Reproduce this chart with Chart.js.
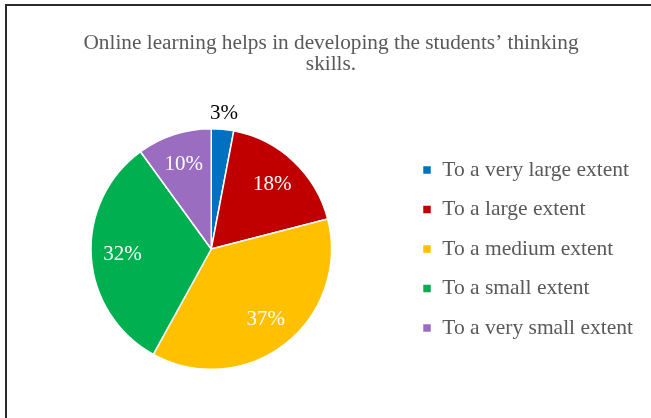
<!DOCTYPE html>
<html>
<head>
<meta charset="utf-8">
<script src="https://cdn.jsdelivr.net/npm/chart.js@4.4.1/dist/chart.umd.min.js"></script>
<style>
  html, body { margin: 0; padding: 0; background: #fff; overflow: hidden; }
  .frame {
    position: absolute; left: 5px; top: 4px; width: 700px; height: 500px;
    border-top: 2px solid #2b2b2b; border-left: 2px solid #2b2b2b;
  }
  #pieChart { position: absolute; left: 0; top: 0; }
</style>
</head>
<body>
<div class="frame"></div>
<canvas id="pieChart" width="651" height="418"></canvas>
<script>
const titleLines = ["Online learning helps in developing the students’ thinking", "skills."];
const categories = [
  "To a very large extent",
  "To a large extent",
  "To a medium extent",
  "To a small extent",
  "To a very small extent",
];
const percents = [3, 18, 37, 32, 10];
const sliceColors = ["#0070C0", "#C00000", "#FFC000", "#00B050", "#9A6DC0"];

const serif = "'Liberation Serif', 'Times New Roman', serif";

// two-line heading centred over the whole figure
const headingPlugin = {
  id: "heading",
  afterDraw(chart) {
    const c = chart.ctx;
    c.save();
    c.fillStyle = "#595959";
    c.font = "21.3px " + serif;
    c.textAlign = "center";
    c.textBaseline = "alphabetic";
    titleLines.forEach((line, i) => c.fillText(line, 331, 49 + i * 20.5));
    c.restore();
  },
};

// percentage labels: inside the slice, small slices go outside
const sliceLabels = {
  id: "sliceLabels",
  afterDatasetsDraw(chart) {
    const c = chart.ctx;
    const meta = chart.getDatasetMeta(0);
    c.save();
    c.font = "21px " + serif;
    c.textAlign = "center";
    c.textBaseline = "middle";
    meta.data.forEach((arc, i) => {
      const p = arc.getProps(["x", "y", "startAngle", "endAngle", "outerRadius"], true);
      const mid = (p.startAngle + p.endAngle) / 2;
      const small = percents[i] < 5;
      const r = small ? p.outerRadius + 16 : p.outerRadius * 0.74;
      c.fillStyle = small ? "#000000" : "#ffffff";
      c.fillText(percents[i] + "%", p.x + Math.cos(mid) * r, p.y + Math.sin(mid) * r);
    });
    c.restore();
  },
};

new Chart(document.getElementById("pieChart"), {
  type: "pie",
  data: {
    labels: categories,
    datasets: [
      {
        data: percents,
        backgroundColor: sliceColors,
        borderColor: "#ffffff",
        borderWidth: 1.5,
      },
    ],
  },
  options: {
    responsive: false,
    animation: false,
    layout: { padding: { left: 18, right: 8, top: 128, bottom: 48 } },
    plugins: {
      title: { display: false },
      tooltip: { enabled: false },
      legend: {
        position: "right",
        fullSize: false,
        labels: {
          color: "#595959",
          font: { family: serif, size: 21.5 },
          boxWidth: 9,
          boxHeight: 9,
          padding: 18,
        },
      },
    },
  },
  plugins: [headingPlugin, sliceLabels],
});
</script>
</body>
</html>
